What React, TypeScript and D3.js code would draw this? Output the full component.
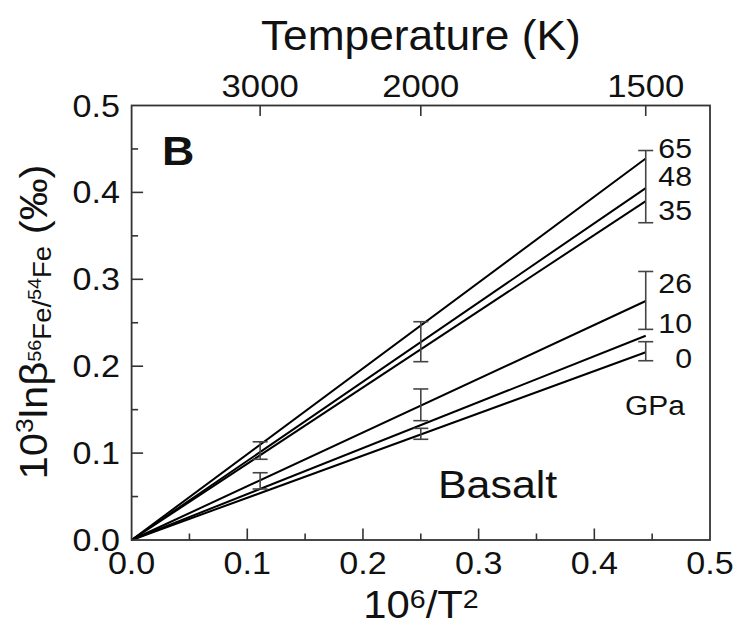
import React from 'react';
import * as d3 from 'd3';

// pressures (GPa) and the value of each line at T = 1500 K
const pressures = ['65', '48', '35', '26', '10', '0'];
const endValues = [0.439, 0.405, 0.39, 0.275, 0.235, 0.216];
// vertical anchor (data units) of the pressure labels
const labelValues = [0.4395, 0.407, 0.368, 0.2846, 0.2378, 0.1976];

// temperatures of the top axis
const topTemps = [3000, 2000, 1500];

// error bars: temperature, low, high
const errTemps = [3000, 3000, 2000, 2000, 2000, 1500, 1500, 1500];
const errLows = [0.0929, 0.0587, 0.2052, 0.1373, 0.1159, 0.3651, 0.2424, 0.2063];
const errHighs = [0.113, 0.0774, 0.2512, 0.1738, 0.1285, 0.4482, 0.309, 0.2282];

const xMajor = [0.1, 0.2, 0.3, 0.4];
const xLabels = [0, 0.1, 0.2, 0.3, 0.4, 0.5];
const yLabels = [0, 0.1, 0.2, 0.3, 0.4, 0.5];
const minorTicks = [0.05, 0.15, 0.25, 0.35, 0.45];

const W = 738;
const H = 626;
const FONT = "'Liberation Sans', Arial, sans-serif";
const SX = 1.1;

const invT2 = (T: number) => 1e6 / (T * T);

function SText(props: {
  x: number; y: number; size: number; anchor?: string; weight?: string | number; children: React.ReactNode; sx?: number;
}) {
  const { x, y, size, anchor = 'start', weight = 'normal', children, sx = SX } = props;
  return (
    <g transform={`translate(${x},${y}) scale(${sx},1)`}>
      <text textAnchor={anchor} fontSize={size} fontWeight={weight} fontFamily={FONT} fill="#111">
        {children}
      </text>
    </g>
  );
}

export default function App() {
  const x = d3.scaleLinear().domain([0, 0.5]).range([131.6, 710]);
  const y = d3.scaleLinear().domain([0, 0.5]).range([540, 105.5]);
  const x0 = x(0), x1 = x(0.5), y0 = y(0), y1 = y(0.5);
  const xEnd = invT2(1500);
  const line = d3.line<[number, number]>().x(d => x(d[0])).y(d => y(d[1]));
  const cap = 7.5;

  return (
    <svg width={W} height={H} style={{ position: 'absolute', left: 0, top: 0, background: '#fff' }}>
      <rect x={0} y={0} width={W} height={H} fill="#fff" />

      {/* data lines */}
      {endValues.map((v, i) => (
        <path key={'l' + i} d={line([[0, 0], [xEnd, v]]) || ''} stroke="#000" strokeWidth={2} fill="none" />
      ))}

      {/* error bars */}
      {errTemps.map((T, i) => {
        const cx = x(invT2(T));
        return (
          <g key={'e' + i} stroke="#444" strokeWidth={1.6}>
            <line x1={cx} x2={cx} y1={y(errLows[i])} y2={y(errHighs[i])} />
            <line x1={cx - cap} x2={cx + cap} y1={y(errLows[i])} y2={y(errLows[i])} />
            <line x1={cx - cap} x2={cx + cap} y1={y(errHighs[i])} y2={y(errHighs[i])} />
          </g>
        );
      })}

      {/* frame */}
      <rect x={x0} y={y1} width={x1 - x0} height={y0 - y1} fill="none" stroke="#333" strokeWidth={1.8} />

      {/* bottom ticks */}
      {xMajor.map(v => (
        <line key={'xm' + v} x1={x(v)} x2={x(v)} y1={y0} y2={y0 - 11.5} stroke="#333" strokeWidth={1.6} />
      ))}
      {minorTicks.map(v => (
        <line key={'xn' + v} x1={x(v)} x2={x(v)} y1={y0} y2={y0 - 6.5} stroke="#333" strokeWidth={1.6} />
      ))}
      {/* left ticks */}
      {xMajor.map(v => (
        <line key={'ym' + v} x1={x0} x2={x0 + 11.5} y1={y(v)} y2={y(v)} stroke="#333" strokeWidth={1.6} />
      ))}
      {minorTicks.map(v => (
        <line key={'yn' + v} x1={x0} x2={x0 + 6.5} y1={y(v)} y2={y(v)} stroke="#333" strokeWidth={1.6} />
      ))}
      {/* top ticks */}
      {topTemps.map(T => (
        <line key={'t' + T} x1={x(invT2(T))} x2={x(invT2(T))} y1={y1} y2={y1 + 10.5} stroke="#333" strokeWidth={1.6} />
      ))}

      {/* tick labels */}
      {xLabels.map(v => (
        <SText key={'xl' + v} x={x(v)} y={574} size={31} anchor="middle">{d3.format('.1f')(v)}</SText>
      ))}
      {yLabels.map(v => (
        <SText key={'yl' + v} x={120} y={y(v) + 11} size={31} anchor="end">{d3.format('.1f')(v)}</SText>
      ))}
      {topTemps.map(T => (
        <SText key={'tl' + T} x={x(invT2(T))} y={97} size={31.5} anchor="middle">{String(T)}</SText>
      ))}

      {/* axis titles */}
      <SText x={(x0 + x1) / 2} y={50} size={43} anchor="middle" sx={1.03}>Temperature (K)</SText>
      <g transform={`translate(421,618) scale(${SX},1)`}>
        <text textAnchor="middle" fontSize={38} fontFamily={FONT} fill="#111">
          10<tspan fontSize={26} dy={-10}>6</tspan>
          <tspan dy={10}>/T</tspan>
          <tspan fontSize={26} dy={-10}>2</tspan>
        </text>
      </g>
      <g transform={`translate(47,322) rotate(-90) scale(${SX},1)`}>
        <text textAnchor="middle" fontSize={38} fontFamily={FONT} fill="#111">
          10<tspan fontSize={24} dy={-14}>3</tspan>
          <tspan dy={14}>lnβ</tspan>
          <tspan fontSize={18} dy={-6}>56</tspan>
          <tspan fontSize={25} dy={10}>Fe/</tspan>
          <tspan fontSize={18} dy={-10}>54</tspan>
          <tspan fontSize={25} dy={10}>Fe</tspan>
          <tspan dy={-4}> (‰)</tspan>
        </text>
      </g>

      {/* annotations */}
      <SText x={162} y={165} size={40} weight="bold" sx={1.12}>B</SText>
      <SText x={438} y={498} size={39} sx={1.1}>Basalt</SText>
      {pressures.map((p, i) => (
        <SText key={'p' + i} x={692} y={y(labelValues[i])} size={28} anchor="end" sx={1.08}>{p}</SText>
      ))}
      <SText x={655} y={415} size={28} anchor="middle" sx={1.07}>GPa</SText>
    </svg>
  );
}
